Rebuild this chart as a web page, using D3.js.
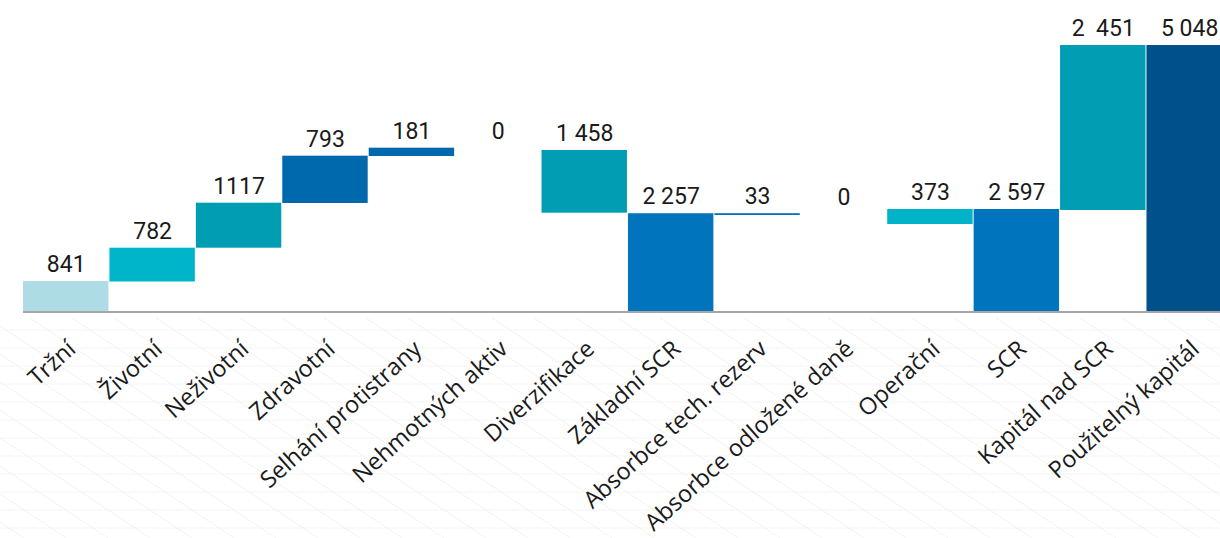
<!DOCTYPE html>
<html>
<head>
<meta charset="utf-8">
<script src="https://cdn.jsdelivr.net/npm/d3@7"></script>
<style>
  html, body { margin: 0; padding: 0; background: #ffffff; }
  svg { display: block; }
</style>
</head>
<body>
<svg id="chart" width="1220" height="538"></svg>
<script>
// ---- data ----
const categories = ["Tržní", "Životní", "Neživotní", "Zdravotní", "Selhání protistrany",
  "Nehmotných aktiv", "Diverzifikace", "Základní SCR", "Absorbce tech. rezerv",
  "Absorbce odložené daně", "Operační", "SCR", "Kapitál nad SCR", "Použitelný kapitál"];
// printed values (labels above bars)
const valueLabels = ["841", "782", "1117", "793", "181", "0", "1 458", "2 257", "33", "0",
  "373", "2 597", "2  451", "5 048"];
// drawn extents of each floating bar, in the chart's value units, as measured in the picture
// (the picture is not drawn strictly to scale, so bottoms/tops are read, not computed)
const barLow  = [0, 686, 1472, 2512, 3605, 3798, 2286, 0, 2233, 2256, 2023, 0, 2349, 0];
const barHigh = [698, 1472, 2519, 3612, 3798, 3798, 3744, 2274, 2274, 2256, 2372, 2372, 6186, 6186];
const barColors = ["#ADDCE4", "#00B5CA", "#009DB3", "#0068AC", "#0068AC", "#0068AC", "#009DB3",
  "#0075BD", "#0070B8", "#0070B8", "#00B3C8", "#0075BD", "#009DB3", "#00508B"];

// ---- layout ----
const svg = d3.select("#chart");
const W = 1220, H = 538;

// faint decorative background pattern
const bg = svg.append("g").attr("class", "background");
const hLines = d3.range(330, 538, 18);
bg.selectAll("line.h").data(hLines).join("line")
  .attr("class", "h")
  .attr("x1", 0).attr("x2", W).attr("y1", d => d).attr("y2", d => d)
  .attr("stroke", "#f5f5f5").attr("stroke-width", 1);
const dLines = d3.range(-600, 1300, 42);
bg.selectAll("line.d").data(dLines).join("line")
  .attr("class", "d")
  .attr("x1", d => d).attr("y1", 318)
  .attr("x2", d => d + 330).attr("y2", 538)
  .attr("stroke", "#f2f2f2").attr("stroke-width", 1);

const x = d3.scaleBand().domain(categories).range([23, 1232.9]).paddingInner(0).paddingOuter(0);
const y = d3.scaleLinear().domain([0, 6000]).range([311, 53]);

const rows = categories.map((c, i) => ({
  cat: c, low: barLow[i], high: barHigh[i], label: valueLabels[i], color: barColors[i]
}));

// bars
svg.append("g").selectAll("rect").data(rows.filter(d => d.high > d.low)).join("rect")
  .attr("x", d => x(d.cat))
  .attr("width", x.bandwidth() - 1)
  .attr("y", d => y(d.high))
  .attr("height", d => Math.max(1.5, y(d.low) - y(d.high)))
  .attr("fill", d => d.color);

// value labels
svg.append("g").selectAll("text").data(rows).join("text")
  .attr("x", d => x(d.cat) + x.bandwidth() / 2)
  .attr("y", d => y(d.high) - 9)
  .attr("text-anchor", "middle")
  .style("white-space", "pre")
  .attr("font-family", "Roboto, 'Noto Sans', sans-serif")
  .attr("font-size", 23)
  .attr("fill", "#1a1a1a")
  .text(d => d.label);

// x axis
const xAxis = d3.axisBottom(x).tickSize(0).tickPadding(0);
const gx = svg.append("g").attr("transform", `translate(0,${y(0)})`).call(xAxis);
gx.select(".domain").attr("stroke", "#a6a6a6").attr("stroke-width", 2)
  .attr("d", `M23,1H${W}`);
gx.selectAll(".tick text")
  .attr("font-family", "'Open Sans', 'Noto Sans', sans-serif")
  .attr("font-size", 23.5)
  .attr("fill", "#1a1a1a")
  .attr("text-anchor", "end")
  .attr("dy", null)
  .attr("y", 0)
  .attr("transform", "translate(11,40) rotate(-42)");
</script>
</body>
</html>
